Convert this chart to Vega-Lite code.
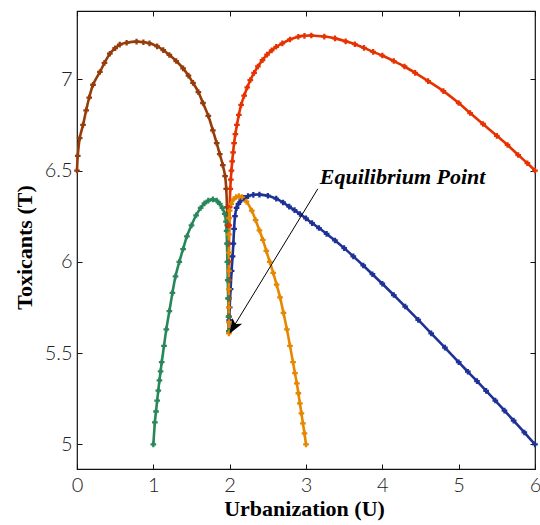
{
  "$schema": "https://vega.github.io/schema/vega-lite/v6.json",
  "width": 458,
  "height": 458,
  "autosize": "none",
  "padding": {"left": 77, "top": 11, "right": 5, "bottom": 56},
  "background": "white",
  "config": {"view": {"stroke": "#111", "strokeWidth": 1.2}},
  "datasets": {
    "curves": [
      {"s":"b","i":1,"x":0,"y":6.5},{"s":"b","i":2,"x":0.01,"y":6.58},{"s":"b","i":3,"x":0.035,"y":6.677},{"s":"b","i":4,"x":0.079,"y":6.75},{"s":"b","i":5,"x":0.12,"y":6.83},{"s":"b","i":6,"x":0.16,"y":6.9},{"s":"b","i":7,"x":0.21,"y":6.97},{"s":"b","i":8,"x":0.3,"y":7.04},{"s":"b","i":9,"x":0.36,"y":7.09},{"s":"b","i":10,"x":0.43,"y":7.14},{"s":"b","i":11,"x":0.5,"y":7.17},{"s":"b","i":12,"x":0.56,"y":7.19},{"s":"b","i":13,"x":0.65,"y":7.2},{"s":"b","i":14,"x":0.78,"y":7.206},{"s":"b","i":15,"x":0.87,"y":7.203},{"s":"b","i":16,"x":0.95,"y":7.197},{"s":"b","i":17,"x":1.05,"y":7.18},{"s":"b","i":18,"x":1.13,"y":7.16},{"s":"b","i":19,"x":1.21,"y":7.133},{"s":"b","i":20,"x":1.3,"y":7.1},{"s":"b","i":21,"x":1.39,"y":7.06},{"s":"b","i":22,"x":1.46,"y":7.02},{"s":"b","i":23,"x":1.52,"y":6.98},{"s":"b","i":24,"x":1.59,"y":6.93},{"s":"b","i":25,"x":1.65,"y":6.87},{"s":"b","i":26,"x":1.72,"y":6.8},{"s":"b","i":27,"x":1.78,"y":6.72},{"s":"b","i":28,"x":1.83,"y":6.65},{"s":"b","i":29,"x":1.87,"y":6.59},{"s":"b","i":30,"x":1.91,"y":6.53},{"s":"b","i":31,"x":1.94,"y":6.47},{"s":"b","i":32,"x":1.955,"y":6.4},{"s":"b","i":33,"x":1.965,"y":6.3},{"s":"b","i":34,"x":1.97,"y":6.2},{"s":"b","i":35,"x":1.975,"y":6.1},{"s":"b","i":36,"x":1.98,"y":6.0},{"s":"b","i":37,"x":1.985,"y":5.9},{"s":"b","i":38,"x":1.985,"y":5.8},{"s":"b","i":39,"x":1.99,"y":5.7},{"s":"b","i":40,"x":1.99,"y":5.62},
      {"s":"r","i":1,"x":6,"y":6.5},{"s":"r","i":2,"x":5.9,"y":6.54},{"s":"r","i":3,"x":5.78,"y":6.585},{"s":"r","i":4,"x":5.64,"y":6.64},{"s":"r","i":5,"x":5.5,"y":6.69},{"s":"r","i":6,"x":5.32,"y":6.755},{"s":"r","i":7,"x":5.15,"y":6.815},{"s":"r","i":8,"x":5.0,"y":6.87},{"s":"r","i":9,"x":4.8,"y":6.935},{"s":"r","i":10,"x":4.6,"y":6.99},{"s":"r","i":11,"x":4.43,"y":7.035},{"s":"r","i":12,"x":4.29,"y":7.07},{"s":"r","i":13,"x":4.15,"y":7.1},{"s":"r","i":14,"x":4.0,"y":7.13},{"s":"r","i":15,"x":3.88,"y":7.15},{"s":"r","i":16,"x":3.76,"y":7.172},{"s":"r","i":17,"x":3.64,"y":7.192},{"s":"r","i":18,"x":3.52,"y":7.208},{"s":"r","i":19,"x":3.38,"y":7.224},{"s":"r","i":20,"x":3.24,"y":7.234},{"s":"r","i":21,"x":3.07,"y":7.24},{"s":"r","i":22,"x":2.98,"y":7.238},{"s":"r","i":23,"x":2.9,"y":7.233},{"s":"r","i":24,"x":2.79,"y":7.218},{"s":"r","i":25,"x":2.69,"y":7.197},{"s":"r","i":26,"x":2.61,"y":7.178},{"s":"r","i":27,"x":2.55,"y":7.158},{"s":"r","i":28,"x":2.49,"y":7.135},{"s":"r","i":29,"x":2.43,"y":7.105},{"s":"r","i":30,"x":2.37,"y":7.07},{"s":"r","i":31,"x":2.32,"y":7.035},{"s":"r","i":32,"x":2.27,"y":6.995},{"s":"r","i":33,"x":2.23,"y":6.955},{"s":"r","i":34,"x":2.19,"y":6.91},{"s":"r","i":35,"x":2.15,"y":6.86},{"s":"r","i":36,"x":2.12,"y":6.805},{"s":"r","i":37,"x":2.095,"y":6.75},{"s":"r","i":38,"x":2.075,"y":6.7},{"s":"r","i":39,"x":2.058,"y":6.65},{"s":"r","i":40,"x":2.045,"y":6.6},{"s":"r","i":41,"x":2.033,"y":6.55},{"s":"r","i":42,"x":2.023,"y":6.5},{"s":"r","i":43,"x":2.015,"y":6.45},{"s":"r","i":44,"x":2.008,"y":6.4},{"s":"r","i":45,"x":2.0,"y":6.3},{"s":"r","i":46,"x":1.995,"y":6.2},{"s":"r","i":47,"x":1.99,"y":6.1},{"s":"r","i":48,"x":1.99,"y":6.0},{"s":"r","i":49,"x":1.99,"y":5.9},{"s":"r","i":50,"x":1.99,"y":5.8},{"s":"r","i":51,"x":1.99,"y":5.7},{"s":"r","i":52,"x":1.99,"y":5.62},
      {"s":"bl","i":1,"x":6,"y":5.0},{"s":"bl","i":2,"x":5.86,"y":5.065},{"s":"bl","i":3,"x":5.72,"y":5.13},{"s":"bl","i":4,"x":5.6,"y":5.185},{"s":"bl","i":5,"x":5.48,"y":5.24},{"s":"bl","i":6,"x":5.36,"y":5.293},{"s":"bl","i":7,"x":5.24,"y":5.346},{"s":"bl","i":8,"x":5.12,"y":5.398},{"s":"bl","i":9,"x":5.0,"y":5.45},{"s":"bl","i":10,"x":4.82,"y":5.53},{"s":"bl","i":11,"x":4.64,"y":5.608},{"s":"bl","i":12,"x":4.47,"y":5.682},{"s":"bl","i":13,"x":4.3,"y":5.755},{"s":"bl","i":14,"x":4.15,"y":5.818},{"s":"bl","i":15,"x":4.0,"y":5.88},{"s":"bl","i":16,"x":3.87,"y":5.932},{"s":"bl","i":17,"x":3.75,"y":5.98},{"s":"bl","i":18,"x":3.62,"y":6.03},{"s":"bl","i":19,"x":3.5,"y":6.075},{"s":"bl","i":20,"x":3.38,"y":6.117},{"s":"bl","i":21,"x":3.27,"y":6.153},{"s":"bl","i":22,"x":3.17,"y":6.185},{"s":"bl","i":23,"x":3.08,"y":6.212},{"s":"bl","i":24,"x":3.0,"y":6.238},{"s":"bl","i":25,"x":2.92,"y":6.262},{"s":"bl","i":26,"x":2.85,"y":6.283},{"s":"bl","i":27,"x":2.78,"y":6.302},{"s":"bl","i":28,"x":2.7,"y":6.325},{"s":"bl","i":29,"x":2.61,"y":6.346},{"s":"bl","i":30,"x":2.5,"y":6.362},{"s":"bl","i":31,"x":2.39,"y":6.368},{"s":"bl","i":32,"x":2.31,"y":6.367},{"s":"bl","i":33,"x":2.24,"y":6.36},{"s":"bl","i":34,"x":2.19,"y":6.35},{"s":"bl","i":35,"x":2.15,"y":6.337},{"s":"bl","i":36,"x":2.115,"y":6.318},{"s":"bl","i":37,"x":2.09,"y":6.295},{"s":"bl","i":38,"x":2.07,"y":6.25},{"s":"bl","i":39,"x":2.058,"y":6.18},{"s":"bl","i":40,"x":2.048,"y":6.1},{"s":"bl","i":41,"x":2.038,"y":6.03},{"s":"bl","i":42,"x":2.025,"y":5.95},{"s":"bl","i":43,"x":2.012,"y":5.85},{"s":"bl","i":44,"x":2.0,"y":5.75},{"s":"bl","i":45,"x":1.995,"y":5.68},{"s":"bl","i":46,"x":1.993,"y":5.62},
      {"s":"g","i":1,"x":1,"y":5.0},{"s":"g","i":2,"x":1.02,"y":5.12},{"s":"g","i":3,"x":1.035,"y":5.18},{"s":"g","i":4,"x":1.05,"y":5.24},{"s":"g","i":5,"x":1.065,"y":5.295},{"s":"g","i":6,"x":1.08,"y":5.35},{"s":"g","i":7,"x":1.095,"y":5.4},{"s":"g","i":8,"x":1.11,"y":5.45},{"s":"g","i":9,"x":1.14,"y":5.54},{"s":"g","i":10,"x":1.17,"y":5.63},{"s":"g","i":11,"x":1.21,"y":5.73},{"s":"g","i":12,"x":1.25,"y":5.83},{"s":"g","i":13,"x":1.29,"y":5.92},{"s":"g","i":14,"x":1.34,"y":6.0},{"s":"g","i":15,"x":1.39,"y":6.07},{"s":"g","i":16,"x":1.44,"y":6.14},{"s":"g","i":17,"x":1.5,"y":6.2},{"s":"g","i":18,"x":1.56,"y":6.255},{"s":"g","i":19,"x":1.62,"y":6.295},{"s":"g","i":20,"x":1.67,"y":6.32},{"s":"g","i":21,"x":1.72,"y":6.335},{"s":"g","i":22,"x":1.78,"y":6.342},{"s":"g","i":23,"x":1.83,"y":6.335},{"s":"g","i":24,"x":1.87,"y":6.318},{"s":"g","i":25,"x":1.905,"y":6.295},{"s":"g","i":26,"x":1.935,"y":6.262},{"s":"g","i":27,"x":1.952,"y":6.22},{"s":"g","i":28,"x":1.96,"y":6.17},{"s":"g","i":29,"x":1.965,"y":6.1},{"s":"g","i":30,"x":1.97,"y":6.0},{"s":"g","i":31,"x":1.975,"y":5.9},{"s":"g","i":32,"x":1.98,"y":5.8},{"s":"g","i":33,"x":1.985,"y":5.7},{"s":"g","i":34,"x":1.99,"y":5.62},
      {"s":"o","i":1,"x":3,"y":5.0},{"s":"o","i":2,"x":2.98,"y":5.06},{"s":"o","i":3,"x":2.96,"y":5.115},{"s":"o","i":4,"x":2.94,"y":5.17},{"s":"o","i":5,"x":2.92,"y":5.225},{"s":"o","i":6,"x":2.9,"y":5.28},{"s":"o","i":7,"x":2.88,"y":5.334},{"s":"o","i":8,"x":2.855,"y":5.39},{"s":"o","i":9,"x":2.83,"y":5.45},{"s":"o","i":10,"x":2.79,"y":5.54},{"s":"o","i":11,"x":2.75,"y":5.63},{"s":"o","i":12,"x":2.705,"y":5.72},{"s":"o","i":13,"x":2.66,"y":5.805},{"s":"o","i":14,"x":2.615,"y":5.875},{"s":"o","i":15,"x":2.57,"y":5.94},{"s":"o","i":16,"x":2.525,"y":6.0},{"s":"o","i":17,"x":2.48,"y":6.06},{"s":"o","i":18,"x":2.435,"y":6.12},{"s":"o","i":19,"x":2.39,"y":6.172},{"s":"o","i":20,"x":2.34,"y":6.228},{"s":"o","i":21,"x":2.29,"y":6.28},{"s":"o","i":22,"x":2.22,"y":6.33},{"s":"o","i":23,"x":2.16,"y":6.355},{"s":"o","i":24,"x":2.12,"y":6.36},{"s":"o","i":25,"x":2.085,"y":6.355},{"s":"o","i":26,"x":2.05,"y":6.342},{"s":"o","i":27,"x":2.02,"y":6.318},{"s":"o","i":28,"x":2.0,"y":6.28},{"s":"o","i":29,"x":1.992,"y":6.24},{"s":"o","i":30,"x":1.99,"y":6.15},{"s":"o","i":31,"x":1.99,"y":6.05},{"s":"o","i":32,"x":1.99,"y":5.95},{"s":"o","i":33,"x":1.99,"y":5.85},{"s":"o","i":34,"x":1.99,"y":5.75},{"s":"o","i":35,"x":1.99,"y":5.67},{"s":"o","i":36,"x":1.99,"y":5.608}
    ]
  },
  "layer": [
    {
      "data": {"name": "curves"},
      "mark": {"type": "line", "interpolate": "cardinal"},
      "encoding": {
        "x": {"field": "x", "type": "quantitative", "scale": {"domain": [0, 6], "nice": false, "zero": false},
          "axis": {"orient": "bottom", "values": [0,1,2,3,4,5,6], "format": "~g", "grid": false, "domain": false, "tickSize": -5, "tickColor": "#111", "labelPadding": 11, "labelFlush": false, "labelFont": "Lato", "labelFontWeight": 300, "labelFontSize": 20, "labelColor": "#222", "title": "Urbanization (U)", "titleFont": "Liberation Serif", "titleFontSize": 22, "titleFontWeight": "bold", "titleColor": "#000", "titleX": 227, "titleY": 46, "titleBaseline": "alphabetic", "titleAlign": "center"}},
        "y": {"field": "y", "type": "quantitative", "scale": {"domain": [4.865, 7.374], "nice": false, "zero": false},
          "axis": {"orient": "left", "values": [5,5.5,6,6.5,7], "format": "~g", "grid": false, "domain": false, "tickSize": -5, "tickColor": "#111", "labelPadding": 10, "labelFont": "Lato", "labelFontWeight": 300, "labelFontSize": 20, "labelColor": "#222", "title": "Toxicants (T)", "titleFont": "Liberation Serif", "titleFontSize": 22, "titleFontWeight": "bold", "titleColor": "#000", "titleX": -53, "titleY": 236, "titleAngle": -90, "titleBaseline": "middle", "titleAlign": "center"}},
        "color": {"field": "s", "type": "nominal", "scale": {"domain": ["b","r","bl","g","o"], "range": ["#963c0a","#e63200","#1e3296","#28875a","#e68700"]}, "legend": null},
        "strokeWidth": {"field": "s", "type": "nominal", "scale": {"domain": ["b","r","bl","g","o"], "range": [2.6,2.6,2.3,2.6,4.2]}, "legend": null},
        "order": {"field": "i", "type": "quantitative"}
      }
    },
    {
      "data": {"name": "curves"},
      "mark": {"type": "point", "shape": "cross", "filled": true, "size": 32, "opacity": 1},
      "encoding": {
        "x": {"field": "x", "type": "quantitative", "axis": {"orient": "top", "values": [0,1,2,3,4,5,6], "grid": false, "domain": false, "labels": false, "tickSize": -5, "tickColor": "#111", "title": null}},
        "y": {"field": "y", "type": "quantitative", "axis": {"orient": "right", "values": [5,5.5,6,6.5,7], "grid": false, "domain": false, "labels": false, "tickSize": -5, "tickColor": "#111", "title": null}},
        "color": {"field": "s", "type": "nominal", "legend": null}
      }
    },
    {
      "data": {"values": [{"x": 3.155, "y": 6.40, "x2": 2.045, "y2": 5.64}]},
      "mark": {"type": "rule", "color": "#000", "strokeWidth": 1},
      "encoding": {
        "x": {"field": "x", "type": "quantitative", "axis": null},
        "y": {"field": "y", "type": "quantitative", "axis": null},
        "x2": {"field": "x2"},
        "y2": {"field": "y2"}
      }
    },
    {
      "data": {"values": [{"x": 2.049, "y": 5.641}]},
      "mark": {"type": "point", "shape": "M0,-1L0.75,1L0,0.5L-0.75,1Z", "filled": true, "color": "#000", "opacity": 1, "size": 230, "angle": 211},
      "encoding": {
        "x": {"field": "x", "type": "quantitative", "axis": null},
        "y": {"field": "y", "type": "quantitative", "axis": null}
      }
    },
    {
      "data": {"values": [{"x": 3.18, "y": 6.426, "label": "Equilibrium Point"}]},
      "mark": {"type": "text", "font": "Liberation Serif", "fontStyle": "italic", "fontWeight": "bold", "fontSize": 22, "align": "left", "baseline": "alphabetic", "color": "#000"},
      "encoding": {
        "x": {"field": "x", "type": "quantitative", "axis": null},
        "y": {"field": "y", "type": "quantitative", "axis": null},
        "text": {"field": "label"}
      }
    }
  ],
  "resolve": {"axis": {"x": "independent", "y": "independent"}}
}
